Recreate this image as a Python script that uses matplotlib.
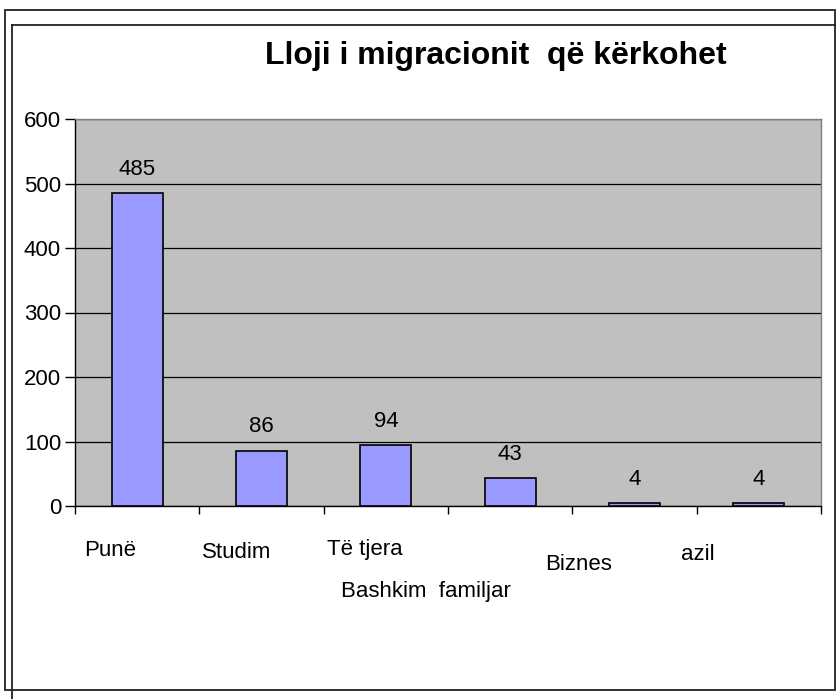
import matplotlib
matplotlib.use("Agg")
import matplotlib.pyplot as plt
from matplotlib.lines import Line2D
from matplotlib.patches import Rectangle
from matplotlib.transforms import blended_transform_factory

plt.rcParams['font.family'] = ['Liberation Sans', 'DejaVu Sans']

title = "Lloji i migracionit  që kërkohet"
categories = ["Punë", "Studim", "Të tjera", "Bashkim  familjar", "Biznes", "azil"]
values = [485, 86, 94, 43, 4, 4]
yticks = [0, 100, 200, 300, 400, 500, 600]
# staggered category label placement (data-x, pixel-y from top)
label_x = [-0.22, 0.80, 1.83, 2.32, 3.55, 4.51]
label_ypx = [550, 553, 549, 592, 565, 554]

W, H = 837, 699
fig = plt.figure(figsize=(W / 100, H / 100), dpi=100)
fig.patch.set_facecolor("white")

def fx(px):
    return px / W

def fy(py):
    return 1 - py / H

FS = 16

ax = fig.add_axes([fx(75), fy(506), fx(821) - fx(75), fy(119) - fy(506)])
ax.set_facecolor("#C0C0C0")
x = list(range(len(categories)))
bars = ax.bar(x, values, width=0.41, color="#9999FF", edgecolor="black", linewidth=1.2, zorder=3)
ax.set_xlim(-0.5, len(categories) - 0.5)
ax.set_ylim(0, 600)
ax.set_yticks(yticks)
ax.set_yticklabels([str(v) for v in yticks], fontsize=FS)
ax.yaxis.grid(True, color="black", linewidth=0.9, zorder=1)
ax.set_axisbelow(True)
ax.tick_params(axis="y", length=7, width=1, direction="out", pad=3)
ax.set_xticks([i - 0.5 for i in range(len(categories) + 1)])
ax.set_xticklabels([])
ax.tick_params(axis="x", length=6, width=1, direction="out")
for s in ["top", "right"]:
    ax.spines[s].set_color("#808080")
    ax.spines[s].set_linewidth(1)
for s in ["left", "bottom"]:
    ax.spines[s].set_color("black")
    ax.spines[s].set_linewidth(1)

for b, v in zip(bars, values):
    ax.annotate(str(v), (b.get_x() + b.get_width() / 2, v), xytext=(0, 17),
                textcoords="offset points", ha="center", va="center", fontsize=FS)

tr = blended_transform_factory(ax.transData, fig.transFigure)
for lab, lx, ly in zip(categories, label_x, label_ypx):
    ax.text(lx, fy(ly), lab, transform=tr, ha="center", va="center", fontsize=FS, clip_on=False)

fig.text(fx(496), fy(56), title, ha="center", va="center", fontsize=23, fontweight="bold")

# document frame lines
fig.patches.append(Rectangle((fx(5), fy(690)), fx(835) - fx(5), fy(10) - fy(690),
                             transform=fig.transFigure, fill=False, edgecolor="#222222", linewidth=1.3))
fig.lines.append(Line2D([fx(12), 1.0], [fy(25), fy(25)], transform=fig.transFigure, color="#222222", linewidth=1.3))
fig.lines.append(Line2D([fx(12), fx(12)], [fy(25), 0.0], transform=fig.transFigure, color="#222222", linewidth=1.3))

fig.savefig("out.png", dpi=100)
